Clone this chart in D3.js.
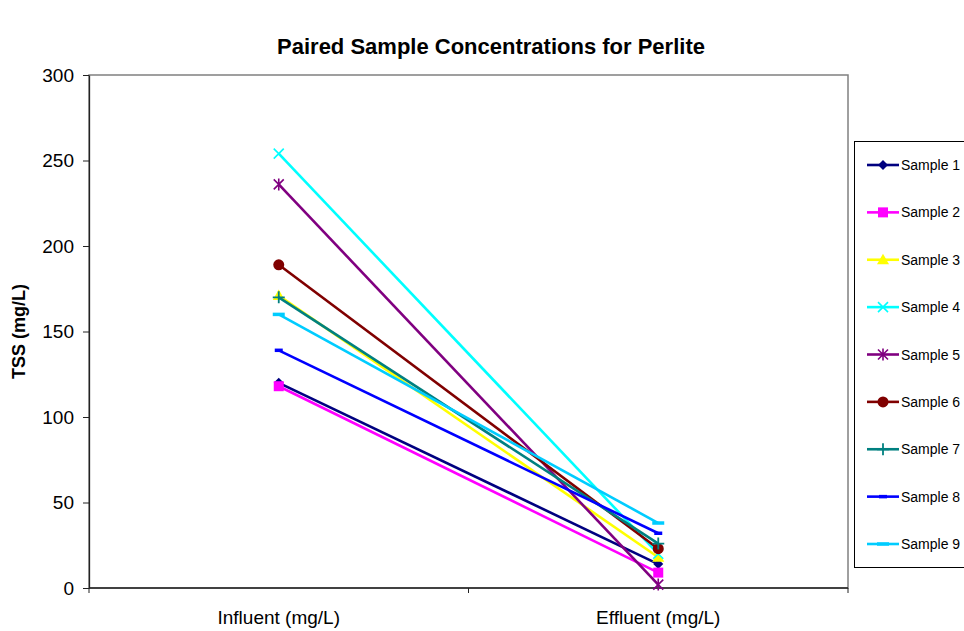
<!DOCTYPE html>
<html>
<head>
<meta charset="utf-8">
<script src="https://cdn.jsdelivr.net/npm/d3@7"></script>
<style>
  body { margin: 0; background: #fff; }
  svg { font-family: "Liberation Sans", Arial, sans-serif; }
</style>
</head>
<body>
<svg width="964" height="631"></svg>
<script>
// chart values
const categories = ['Influent (mg/L)', 'Effluent (mg/L)'];
const sampleNames = ['Sample 1', 'Sample 2', 'Sample 3', 'Sample 4', 'Sample 5',
  'Sample 6', 'Sample 7', 'Sample 8', 'Sample 9'];
const influent = [120, 118, 171, 254, 236, 189, 170, 139, 160];
const effluent = [14, 9, 18, 20, 2, 23, 26, 32, 38];
const yTicks = [0, 50, 100, 150, 200, 250, 300];

const colors = ['#000080', '#ff00ff', '#ffff00', '#00ffff', '#800080',
  '#800000', '#008080', '#0000ff', '#00ccff'];
const markers = ['diamond', 'square', 'triangle', 'x', 'star', 'circle', 'plus', 'dash', 'longdash'];

const svg = d3.select('svg');
const margin = { top: 75, left: 89, right: 116, bottom: 43 };
const width = 964, height = 631;

const x = d3.scaleBand()
  .domain(categories)
  .range([margin.left, width - margin.right])
  .padding(0);
const y = d3.scaleLinear()
  .domain([0, 300])
  .range([height - margin.bottom, margin.top]);

const cx = c => x(c) + x.bandwidth() / 2;

// plot frame (gray top/right)
svg.append('rect')
  .attr('x', margin.left)
  .attr('y', margin.top)
  .attr('width', width - margin.right - margin.left)
  .attr('height', y(0) - margin.top)
  .attr('fill', 'none')
  .attr('stroke', '#808080')
  .attr('stroke-width', 1.5);

// y axis
const yAxis = svg.append('g')
  .attr('transform', `translate(${margin.left},0)`)
  .call(d3.axisLeft(y).tickValues(yTicks).tickSize(6).tickSizeOuter(0).tickPadding(9));
yAxis.select('.domain').attr('stroke', '#222').attr('stroke-width', 1.3);
yAxis.selectAll('.tick line').attr('stroke', '#222');
yAxis.selectAll('.tick text').attr('font-size', 19).attr('fill', '#000')
  .attr('font-family', '"Liberation Sans", Arial, sans-serif');

// x axis: baseline, ticks between categories, labels at band centers
const xg = svg.append('g');
xg.append('line')
  .attr('x1', margin.left).attr('x2', width - margin.right)
  .attr('y1', y(0)).attr('y2', y(0))
  .attr('stroke', '#222').attr('stroke-width', 1.3);
const edges = categories.map(c => x(c)).concat([x(categories[categories.length - 1]) + x.bandwidth()]);
xg.selectAll('line.tk')
  .data(edges)
  .enter()
  .append('line')
  .attr('class', 'tk')
  .attr('x1', d => d).attr('x2', d => d)
  .attr('y1', y(0)).attr('y2', y(0) + 5)
  .attr('stroke', '#222');
xg.selectAll('text')
  .data(categories)
  .enter()
  .append('text')
  .attr('x', d => cx(d))
  .attr('y', y(0) + 36)
  .attr('text-anchor', 'middle')
  .attr('font-size', 19)
  .text(d => d);

// title and y label
svg.append('text')
  .attr('x', 491).attr('y', 54)
  .attr('text-anchor', 'middle')
  .attr('font-size', 22)
  .attr('font-weight', 'bold')
  .text('Paired Sample Concentrations for Perlite');

svg.append('text')
  .attr('transform', `translate(25,${(y(0) + margin.top) / 2}) rotate(-90)`)
  .attr('text-anchor', 'middle')
  .attr('font-size', 18)
  .attr('font-weight', 'bold')
  .text('TSS (mg/L)');

// marker drawing
const drawMarker = (g, type, color) => {
  if (type === 'diamond') {
    g.append('path').attr('d', 'M0,-5L5,0L0,5L-5,0Z').attr('fill', color);
  } else if (type === 'square') {
    g.append('rect').attr('x', -5).attr('y', -5).attr('width', 10).attr('height', 10).attr('fill', color);
  } else if (type === 'triangle') {
    g.append('path').attr('d', 'M0,-6L6,4.5L-6,4.5Z').attr('fill', color);
  } else if (type === 'x') {
    g.append('path').attr('d', 'M-5,-5L5,5M-5,5L5,-5').attr('stroke', color).attr('stroke-width', 1.6);
  } else if (type === 'star') {
    g.append('path').attr('d', 'M-5,-5L5,5M-5,5L5,-5M0,-6L0,6').attr('stroke', color).attr('stroke-width', 1.6);
  } else if (type === 'circle') {
    g.append('circle').attr('r', 5.5).attr('fill', color);
  } else if (type === 'plus') {
    g.append('path').attr('d', 'M-6,0L6,0M0,-6L0,6').attr('stroke', color).attr('stroke-width', 1.8);
  } else if (type === 'dash') {
    g.append('path').attr('d', 'M-4,0L4,0').attr('stroke', color).attr('stroke-width', 3.5);
  } else if (type === 'longdash') {
    g.append('path').attr('d', 'M-6,0L6,0').attr('stroke', color).attr('stroke-width', 3.5);
  }
};

// series
const series = sampleNames.map((name, i) => ({
  name,
  color: colors[i],
  marker: markers[i],
  values: [{ cat: categories[0], v: influent[i] }, { cat: categories[1], v: effluent[i] }],
}));

const line = d3.line().x(d => cx(d.cat)).y(d => y(d.v));

series.forEach(s => {
  const g = svg.append('g');
  g.append('path')
    .attr('d', line(s.values))
    .attr('fill', 'none')
    .attr('stroke', s.color)
    .attr('stroke-width', 2.6);
  s.values.forEach(d => {
    const m = g.append('g').attr('transform', `translate(${cx(d.cat)},${y(d.v)})`);
    drawMarker(m, s.marker, s.color);
  });
});

// legend
const legend = svg.append('g');
legend.append('rect')
  .attr('x', 854.5).attr('y', 141.5)
  .attr('width', 130).attr('height', 426)
  .attr('fill', '#fff')
  .attr('stroke', '#000')
  .attr('stroke-width', 1);

const ly = d3.scalePoint().domain(sampleNames).range([165, 544]);
series.forEach(s => {
  const g = legend.append('g').attr('transform', `translate(0,${ly(s.name)})`);
  g.append('line')
    .attr('x1', 867).attr('x2', 899)
    .attr('stroke', s.color).attr('stroke-width', 2.6);
  const m = g.append('g').attr('transform', 'translate(883,0)');
  drawMarker(m, s.marker, s.color);
  g.append('text')
    .attr('x', 901).attr('y', 5)
    .attr('font-size', 14)
    .text(s.name);
});
</script>
</body>
</html>
